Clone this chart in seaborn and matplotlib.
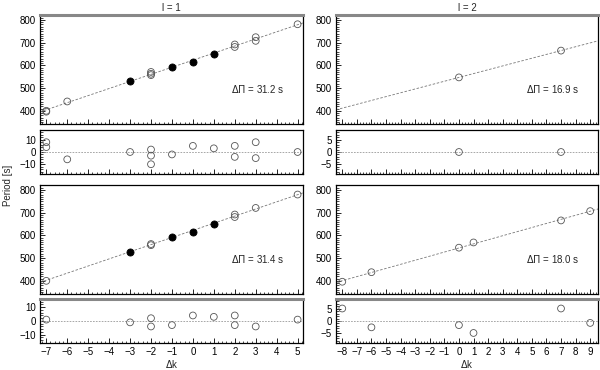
import numpy as np
import pandas as pd
import matplotlib
matplotlib.use("Agg")
import matplotlib.pyplot as plt
from matplotlib.ticker import MultipleLocator
import seaborn as sns

# l = 1, first solution
a_k_open = [-7, -7, -6, -2, -2, -2, 2, 2, 3, 3, 5]
a_p_open = [400, 396, 441, 571, 563, 557, 692, 681, 724, 708, 781]
a_k_fill = [-3, -1, 0, 1]
a_p_fill = [530, 593, 617, 652]
a_res_k = [-7, -7, -6, -3, -2, -2, -2, -1, 0, 1, 2, 2, 3, 3, 5]
a_res = [8, 4, -6, 0, 2, -3, -10, -2, 5, 3, 5, -4, 8, -5, 0]
a_dpi = 31.2

# l = 2, first solution
b_k_open = [0, 7]
b_p_open = [547, 665]
b_res_k = [0, 7]
b_res = [0, 0]
b_dpi = 16.9

# l = 1, second solution
c_k_open = [-7, -2, -2, 2, 2, 3, 5]
c_p_open = [400, 562, 557, 692, 681, 721, 780]
c_k_fill = [-3, -1, 0, 1]
c_p_fill = [527, 593, 617, 652]
c_res_k = [-7, -3, -2, -2, -1, 0, 1, 2, 2, 3, 5]
c_res = [1, -1, 2, -4, -3, 4, 3, 4, -3, -4, 1]
c_dpi = 31.4

# l = 2, second solution
d_k_open = [-8, -6, 0, 1, 7, 9]
d_p_open = [396, 438, 546, 569, 666, 707]
d_res_k = [-8, -6, 0, 1, 7, 9]
d_res = [5.1, -2.6, -1.7, -4.9, 5.1, -0.8]
d_dpi = 18.0

sns.set_style("ticks")
plt.rcParams['font.family'] = ['Liberation Sans', 'DejaVu Sans']
plt.rcParams['mathtext.fontset'] = 'dejavusans'

fig = plt.figure(figsize=(6, 3.7), dpi=100)

xl_left = (-7.3, 5.25)
xl_right = (-8.43, 9.55)
cols = [(0.0667, 0.438, xl_left), (0.56, 0.437, xl_right)]
main_h, res_h = 0.2946, 0.119
fs = 7

open_kw = dict(marker="o", facecolor="none", edgecolor="#555555", linewidth=0.6, s=24, zorder=3)
fill_kw = dict(marker="o", color="black", edgecolor="black", linewidth=0.6, s=26, zorder=4)


def style_axes(ax, xlim, ylim, ymaj, ymin, xlabels):
    ax.set_xlim(*xlim)
    ax.set_ylim(*ylim)
    ax.xaxis.set_major_locator(MultipleLocator(1))
    ax.xaxis.set_minor_locator(MultipleLocator(0.2))
    ax.yaxis.set_major_locator(MultipleLocator(ymaj))
    ax.yaxis.set_minor_locator(MultipleLocator(ymin))
    ax.tick_params(which="both", direction="in", labelsize=fs, colors="black", pad=3)
    ax.tick_params(which="major", length=3.5, width=0.6)
    ax.tick_params(which="minor", length=1.8, width=0.5)
    if not xlabels:
        ax.tick_params(axis="x", labelbottom=False)
    for s in ax.spines.values():
        s.set_visible(True)
        s.set_linewidth(0.9)
        s.set_color("black")
    ax.set_xlabel("")
    ax.set_ylabel("")


def main_panel(ax, xlim, k_open, p_open, k_fill, p_fill, dpi, gray_top):
    k_all = np.array(k_open + k_fill, dtype=float)
    p_all = np.array(p_open + p_fill, dtype=float)
    p0 = np.mean(p_all - dpi * k_all)
    xs = np.array(xlim)
    sns.lineplot(x=xs, y=p0 + dpi * xs, ax=ax, color="#777777", linewidth=0.6,
                 linestyle=(0, (3, 2)), zorder=2)
    sns.scatterplot(x=k_open, y=p_open, ax=ax, **open_kw)
    if k_fill:
        sns.scatterplot(x=k_fill, y=p_fill, ax=ax, **fill_kw)
    style_axes(ax, xlim, (342, 822), 100, 10, False)
    ax.text(0.93, 0.32, r"$\Delta\Pi$ = %.1f s" % dpi, transform=ax.transAxes,
            ha="right", va="center", fontsize=fs)
    if gray_top:
        ax.spines["top"].set_color("#888888")
        ax.spines["top"].set_linewidth(2.2)


def res_panel(ax, xlim, rk, rv, ylim, ymaj, xlabels, gray_top):
    ax.axhline(0, color="#999999", linewidth=0.6, linestyle=(0, (2, 1.5)), zorder=1)
    sns.scatterplot(x=rk, y=rv, ax=ax, **open_kw)
    style_axes(ax, xlim, ylim, ymaj, ymaj / 5, xlabels)
    if gray_top:
        ax.spines["top"].set_color("#888888")
        ax.spines["top"].set_linewidth(2.2)


(xa, wa, xla), (xb, wb, xlb) = cols

axA = fig.add_axes([xa, 0.665, wa, main_h])
axAr = fig.add_axes([xa, 0.5297, wa, res_h])
axC = fig.add_axes([xa, 0.2054, wa, main_h])
axCr = fig.add_axes([xa, 0.073, wa, res_h])
axB = fig.add_axes([xb, 0.665, wb, main_h])
axBr = fig.add_axes([xb, 0.5297, wb, res_h])
axD = fig.add_axes([xb, 0.2054, wb, main_h])
axDr = fig.add_axes([xb, 0.073, wb, res_h])

main_panel(axA, xla, a_k_open, a_p_open, a_k_fill, a_p_fill, a_dpi, True)
res_panel(axAr, xla, a_res_k, a_res, (-18, 18), 10, False, False)
main_panel(axC, xla, c_k_open, c_p_open, c_k_fill, c_p_fill, c_dpi, False)
res_panel(axCr, xla, c_res_k, c_res, (-16, 16), 10, True, True)

main_panel(axB, xlb, b_k_open, b_p_open, [], [], b_dpi, True)
res_panel(axBr, xlb, b_res_k, b_res, (-9, 9), 5, False, False)
main_panel(axD, xlb, d_k_open, d_p_open, [], [], d_dpi, False)
res_panel(axDr, xlb, d_res_k, d_res, (-9, 9), 5, True, True)

axA.set_title("l = 1", fontsize=fs, pad=3)
axB.set_title("l = 2", fontsize=fs, pad=3)
axCr.set_xlabel(r"$\Delta$k", fontsize=fs, labelpad=0.5)
axDr.set_xlabel(r"$\Delta$k", fontsize=fs, labelpad=0.5)
fig.text(0.014, 0.5, "Period [s]", rotation=90, ha="center", va="center", fontsize=fs)

fig.savefig("out.png", dpi=100)
